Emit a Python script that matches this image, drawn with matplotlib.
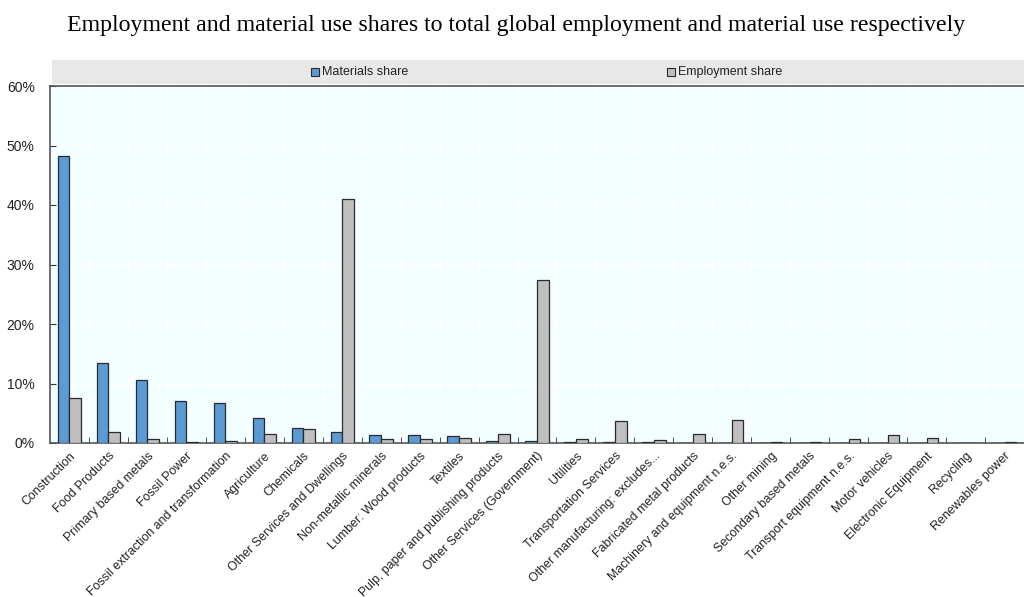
import numpy as np
import matplotlib.pyplot as plt
from matplotlib.patches import Rectangle
from matplotlib.ticker import FuncFormatter, FixedLocator

sectors = ["Construction", "Food Products", "Primary based metals", "Fossil Power",
           "Fossil extraction and transformation", "Agriculture", "Chemicals",
           "Other Services and Dwellings", "Non-metallic minerals", "Lumber: Wood products",
           "Textiles", "Pulp, paper and publishing products", "Other Services (Government)",
           "Utilities", "Transportation Services", "Other manufacturing: excludes...",
           "Fabricated metal products", "Machinery and equipment n.e.s.", "Other mining",
           "Secondary based metals", "Transport equipment n.e.s.", "Motor vehicles",
           "Electronic Equipment", "Recycling", "Renewables power"]
materials = [48.2, 13.5, 10.6, 7.1, 6.7, 4.2, 2.6, 1.8, 1.3, 1.3, 1.1, 0.4, 0.4,
             0.2, 0.2, 0.1, 0.05, 0.05, 0.05, 0.05, 0.05, 0.05, 0.05, 0.02, 0.02]
employment = [7.6, 1.8, 0.7, 0.1, 0.4, 1.5, 2.3, 41.0, 0.6, 0.6, 0.8, 1.5, 27.4,
              0.7, 3.7, 0.5, 1.5, 3.9, 0.2, 0.25, 0.7, 1.3, 0.9, 0.05, 0.15]

blue = "#5B9BD5"
grey = "#BFBFBF"
edge = "#2b2b2b"
sans = "Liberation Sans"

fig = plt.figure(figsize=(10.24, 5.97), dpi=100)
ax = fig.add_axes([50/1024, 1-443/597, 974/1024, (443-86)/597])
ax.set_facecolor("#F2FEFF")

x = np.arange(len(sectors))
w = 0.3
ax.bar(x - w/2, materials, w, color=blue, edgecolor=edge, linewidth=0.9, zorder=3)
ax.bar(x + w/2, employment, w, color=grey, edgecolor=edge, linewidth=0.9, zorder=3)

ax.set_xlim(-0.5, len(sectors) - 0.5)
ax.set_ylim(0, 60)
ax.set_yticks(range(0, 61, 10))
ax.yaxis.set_major_formatter(FuncFormatter(lambda v, p: f"{int(v)}%"))
ax.set_xticks(x)
ax.set_xticklabels(sectors, rotation=45, ha="right", rotation_mode="anchor",
                   fontsize=8.9, family=sans, color="#222222")
ax.xaxis.set_minor_locator(FixedLocator(np.arange(0.5, len(sectors) - 0.5, 1)))
ax.tick_params(axis="x", which="major", length=0, pad=5)
ax.tick_params(axis="x", which="minor", direction="in", length=4, color="#333333")
ax.tick_params(axis="y", direction="in", length=4, color="#333333",
               labelsize=10, pad=11)
for lab in ax.get_yticklabels():
    lab.set_family(sans)
    lab.set_color("#222222")

ax.grid(True, which="minor", axis="x", color="white", linewidth=1, zorder=0)
ax.grid(True, which="major", axis="y", color="white", linewidth=1, zorder=0)

for s in ["left", "bottom", "top"]:
    ax.spines[s].set_color("#555555")
    ax.spines[s].set_linewidth(1.2)
ax.spines["right"].set_visible(False)

# legend band
fig.patches.append(Rectangle((52/1024, 1-84/597), 972/1024, 24/597,
                             transform=fig.transFigure, facecolor="#E8E8E8",
                             edgecolor="none"))
ly = 1 - 72/597
fig.patches.append(Rectangle((311/1024, ly - 4/597), 8/1024, 8/597,
                             transform=fig.transFigure, facecolor=blue,
                             edgecolor=edge, linewidth=0.8))
fig.text(322/1024, ly, "Materials share", va="center", ha="left", fontsize=9,
         family=sans, color="#222222")
fig.patches.append(Rectangle((667/1024, ly - 4/597), 8/1024, 8/597,
                             transform=fig.transFigure, facecolor=grey,
                             edgecolor=edge, linewidth=0.8))
fig.text(678/1024, ly, "Employment share", va="center", ha="left", fontsize=9,
         family=sans, color="#222222")

fig.text(516/1024, 1 - 26/597,
         "Employment and material use shares to total global employment and material use respectively",
         ha="center", va="center", fontsize=17.2, family="Liberation Serif")

fig.savefig("out.png", dpi=100)
